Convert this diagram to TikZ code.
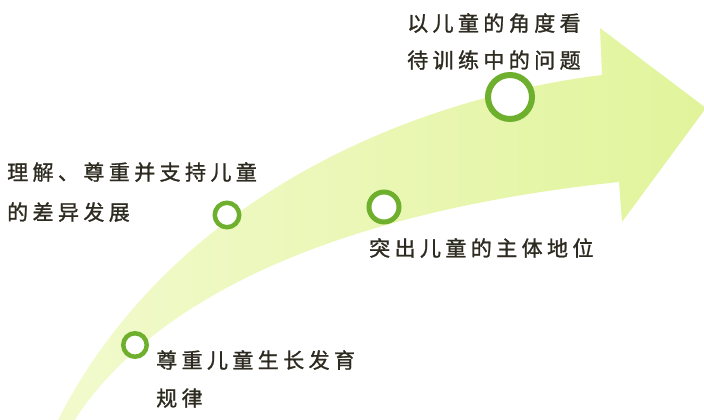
\documentclass[tikz,border=0pt]{standalone}
\usepackage{fontspec}
\newfontfamily\cjk[LetterSpace=21,FakeBold=1.2]{Noto Sans CJK SC}
\definecolor{headcol}{RGB}{225,244,155}
\definecolor{midcol}{RGB}{233,247,178}
\definecolor{tailcol}{RGB}{242,250,205}
\definecolor{ringcol}{RGB}{110,176,46}
\definecolor{txtcol}{RGB}{45,42,32}
\begin{document}
\begin{tikzpicture}[x=1pt,y=-1pt,
  ringnode/.style={circle,draw=ringcol,fill=white,inner sep=0pt},
  txtlabel/.style={anchor=north west,inner sep=0pt,align=left,text=txtcol,
    font=\cjk\fontsize{21}{38}\selectfont}]
\useasboundingbox (0,0) rectangle (704,420);
% curved arrow
\shade[left color=tailcol,middle color=midcol,right color=headcol]
  (72,424) .. controls (170,270) and (400,205) .. (619,182)
  -- (622,222) -- (706,108) -- (600,28) -- (602,75)
  .. controls (400,100) and (165,205) .. (56,424) -- cycle;
% markers
\node[ringnode,line width=4.5pt,minimum size=23.5pt] (c1) at (135,345) {};
\node[ringnode,line width=4.5pt,minimum size=24.5pt] (c2) at (227,215) {};
\node[ringnode,line width=5pt,minimum size=30pt] (c3) at (384,207) {};
\node[ringnode,line width=6pt,minimum size=44pt] (c4) at (510,97) {};
% labels
\node[txtlabel] (t1) at (156,350) {尊重儿童生长发育\\规律};
\node[txtlabel] (t2) at (7,162) {理解、尊重并支持儿童\\[2pt]的差异发展};
\node[txtlabel] (t3) at (369,238) {突出儿童的主体地位};
\node[txtlabel] (t4) at (407,13) {以儿童的角度看\\[-1pt]待训练中的问题};
\end{tikzpicture}
\end{document}
